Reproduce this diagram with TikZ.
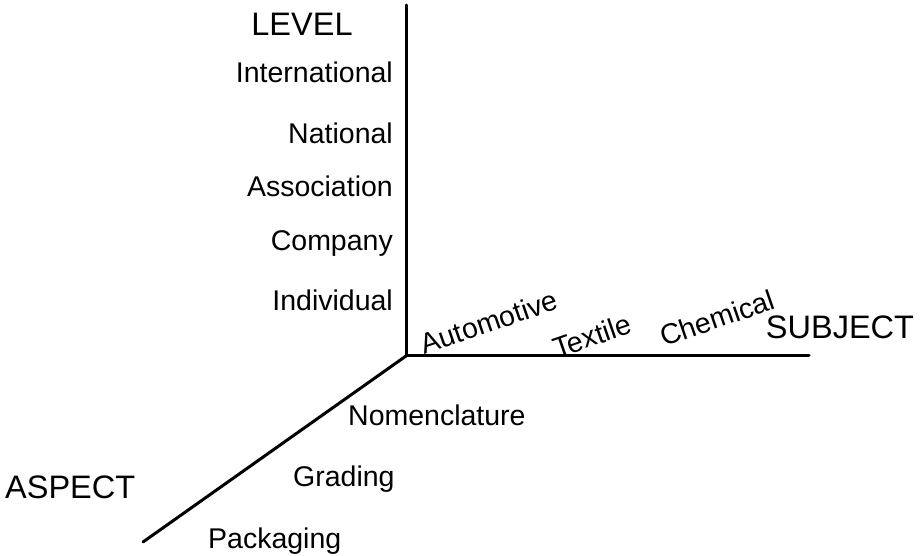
\documentclass[tikz,border=0pt]{standalone}
\usepackage{fontspec}
\setmainfont{Liberation Sans}
\tikzset{
  x=1pt, y=-1pt,
  axis/.style={line width=3pt, line cap=round},
  item/.style={inner sep=0pt, font=\fontsize{28.5}{31}\selectfont, text height=20.4pt, text depth=0pt},
  head/.style={inner sep=0pt, font=\fontsize{32.5}{35}\selectfont, text height=23.3pt, text depth=0pt},
}
\begin{document}
\begin{tikzpicture}
\useasboundingbox (0,0) rectangle (922,556);
\coordinate (o) at (406,356);
\coordinate (top) at (406,5);
\coordinate (right) at (809,356);
\coordinate (low) at (143,542);
\draw[axis] (o) -- (top);
\draw[axis] (o) -- (right);
\draw[axis] (o) -- (low);

\node[head] (level) at (302,24) {LEVEL};
\node[item, anchor=east] (intl) at (393,72) {International};
\node[item, anchor=east] (natl) at (393,133) {National};
\node[item, anchor=east] (assoc) at (393,186) {Association};
\node[item, anchor=east] (comp) at (393,240) {Company};
\node[item, anchor=east] (indiv) at (393,300) {Individual};

\node[item, rotate=19] (auto) at (489,322) {Automotive};
\node[item, rotate=19] (text) at (592,336) {Textile};
\node[item, rotate=19] (chem) at (717,318) {Chemical};
\node[head] (subj) at (840,327) {SUBJECT};

\node[item, anchor=west] (nom) at (348,415) {Nomenclature};
\node[item, anchor=west] (grad) at (293,476) {Grading};
\node[item, anchor=west] (pack) at (208,538) {Packaging};
\node[head, anchor=west] (asp) at (5,487) {ASPECT};
\end{tikzpicture}
\end{document}
